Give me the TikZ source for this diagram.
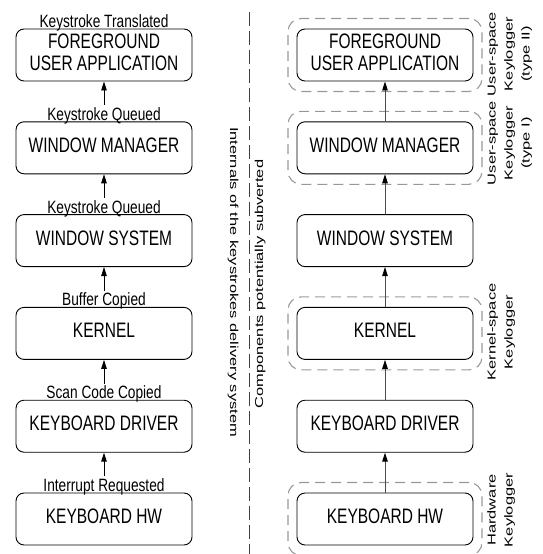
\documentclass[tikz,border=0pt]{standalone}
\usepackage{fontspec}
\setmainfont{Liberation Sans}
\usepackage{graphicx}
\usetikzlibrary{arrows.meta}

% text helpers: glyphs are drawn taller than wide
\newcommand{\stagetext}[1]{\fontsize{15.5}{16.8}\selectfont\scalebox{1}[1.35]{\begin{tabular}{@{}c@{}}#1\end{tabular}}}
\newcommand{\eventtext}[1]{\fontsize{13.7}{16}\selectfont\scalebox{1}[1.3]{#1}}
\newcommand{\sidetext}[1]{\fontsize{11.5}{17}\selectfont\scalebox{1.43}[1]{\begin{tabular}{@{}c@{}}#1\end{tabular}}}
\newcommand{\axistext}[1]{\fontsize{11.5}{14}\selectfont\scalebox{1.43}[1]{#1}}

\begin{document}
\begin{tikzpicture}[x=1pt,y=-1pt,
  stage/.style={draw=black, line width=0.9pt, rounded corners=8pt,
    minimum width=176pt, minimum height=52pt, inner sep=0pt},
  ring/.style={draw=black!40, line width=1.1pt, dash pattern=on 10pt off 6pt,
    rounded corners=13pt, minimum width=194pt, minimum height=73pt, inner sep=0pt},
  event/.style={inner sep=0pt, anchor=base},
  flowL/.style={draw=black, line width=0.9pt, -{Triangle[length=9pt,width=5.5pt]}, shorten <=2pt},
  flowR/.style={draw=black!70, line width=0.9pt, -{Triangle[length=9pt,width=5.5pt,color=black]}},
  side/.style={inner sep=0pt, rotate=90, anchor=north},
  axis/.style={inner sep=0pt, anchor=base}
]
\useasboundingbox (0,0) rectangle (543,554);

% ---------- left column: delivery chain ----------
\node[stage] (b1) at (104,55)    {\stagetext{FOREGROUND\\USER APPLICATION}};
\node[stage] (b2) at (104,147.8) {\stagetext{WINDOW MANAGER}};
\node[stage] (b3) at (104,240.6) {\stagetext{WINDOW SYSTEM}};
\node[stage] (b4) at (104,333.4) {\stagetext{KERNEL}};
\node[stage] (b5) at (104,426.2) {\stagetext{KEYBOARD DRIVER}};
\node[stage] (b6) at (104,519)   {\stagetext{KEYBOARD HW}};

\node[event] (l1) at (104,27.5)  {\eventtext{Keystroke Translated}};
\node[event] (l2) at (104,120.3) {\eventtext{Keystroke Queued}};
\node[event] (l3) at (104,213.1) {\eventtext{Keystroke Queued}};
\node[event] (l4) at (104,305.9) {\eventtext{Buffer Copied}};
\node[event] (l5) at (104,398.7) {\eventtext{Scan Code Copied}};
\node[event] (l6) at (104,491.5) {\eventtext{Interrupt Requested}};

\draw[flowL] (l2.north) -- (b1.south);
\draw[flowL] (l3.north) -- (b2.south);
\draw[flowL] (l4.north) -- (b3.south);
\draw[flowL] (l5.north) -- (b4.south);
\draw[flowL] (l6.north) -- (b5.south);

% ---------- separator ----------
\coordinate (septop) at (249,12);
\coordinate (sepbot) at (249,554);
\draw[black!75, line width=0.9pt, dash pattern=on 14pt off 5pt] (septop) -- (sepbot);
\node[axis, rotate=-90] (inner) at (230,282) {\axistext{Internals of the keystrokes delivery system}};
\node[axis, rotate=90]  (subv)  at (263,284) {\axistext{Components potentially subverted}};

% ---------- right column: attack points ----------
\node[stage] (r1) at (385,55)    {\stagetext{FOREGROUND\\USER APPLICATION}};
\node[stage] (r2) at (385,147.8) {\stagetext{WINDOW MANAGER}};
\node[stage] (r3) at (385,240.6) {\stagetext{WINDOW SYSTEM}};
\node[stage] (r4) at (385,333.4) {\stagetext{KERNEL}};
\node[stage] (r5) at (385,426.2) {\stagetext{KEYBOARD DRIVER}};
\node[stage] (r6) at (385,519)   {\stagetext{KEYBOARD HW}};

\node[ring] (d1) at (r1) {};
\node[ring] (d2) at (r2) {};
\node[ring] (d4) at (r4) {};
\node[ring] (d6) at (r6) {};

\draw[flowR] (r2.north) -- (r1.south);
\draw[flowR] (r3.north) -- (r2.south);
\draw[flowR] (r4.north) -- (r3.south);
\draw[flowR] (r5.north) -- (r4.south);
\draw[flowR] (r6.north) -- (r5.south);

\node[side] (k1) at (483.5,54)  {\sidetext{User-space\\Keylogger\\(type II)}};
\node[side] (k2) at (483.5,143) {\sidetext{User-space\\Keylogger\\(type I)}};
\node[side] (k4) at (483.5,332) {\sidetext{Kernel-space\\Keylogger}};
\node[side] (k6) at (483.5,510) {\sidetext{Hardware\\Keylogger}};
\end{tikzpicture}
\end{document}
